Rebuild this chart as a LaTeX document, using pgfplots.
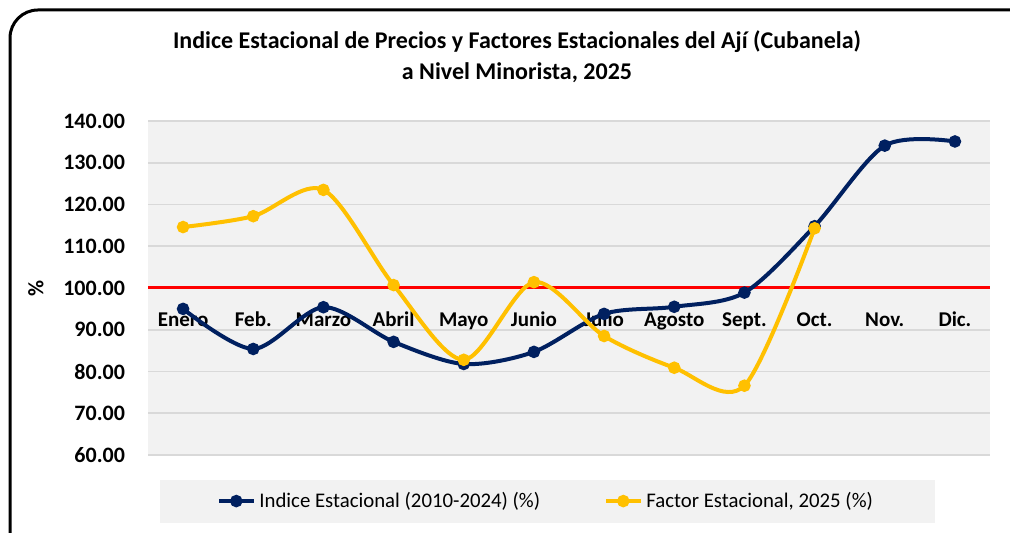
\documentclass[border=0pt]{standalone}
\usepackage{fontspec}
\setmainfont{Carlito}
\usepackage{pgfplots}
\pgfplotsset{compat=1.18}
\definecolor{navy}{HTML}{002060}
\definecolor{gold}{HTML}{FFC000}
\definecolor{bgray}{HTML}{F2F2F2}
\definecolor{ggray}{HTML}{D9D9D9}
\begin{document}
\begin{tikzpicture}
\useasboundingbox (0pt,0pt) rectangle (505pt,266.5pt);
\draw[line width=1.5pt, rounded corners=14pt] (5pt,-30pt) rectangle (530pt,261.5pt);
\node[font=\bfseries\fontsize{12}{15.5}\selectfont, align=center] at (258.5pt,238pt)
  {Indice Estacional de Precios y Factores Estacionales del Ají (Cubanela)\\a Nivel Minorista, 2025};
\fill[bgray] (80pt,5pt) rectangle (467.5pt,26.5pt);
\begin{axis}[
  at={(74pt,39pt)}, anchor=south west,
  width=421pt, height=167pt, scale only axis,
  xmin=-0.5, xmax=11.5, ymin=60, ymax=140,
  xtick={0,...,11},
  xticklabels={Enero,Feb.,Marzo,Abril,Mayo,Junio,Julio,Agosto,Sept.,Oct.,Nov.,Dic.},
  xticklabel style={anchor=base, yshift=64pt, font=\bfseries\fontsize{10.5}{12}\selectfont},
  ytick={60,70,...,140},
  yticklabel style={xshift=-8pt, font=\bfseries\fontsize{11}{12}\selectfont},
  /pgf/number format/assume math mode=true,
  /pgf/number format/fixed, /pgf/number format/fixed zerofill,
  /pgf/number format/precision=2, /pgf/number format/1000 sep={},
  ylabel={\%}, ylabel style={font=\bfseries\fontsize{11}{12}\selectfont}, ylabel shift=3pt,
  axis background/.style={fill=bgray},
  ymajorgrids, grid style={ggray, line width=0.8pt},
  axis line style={draw=none}, major tick length=0pt,
  legend columns=2,
  legend style={at={(0.474,-0.138)}, anchor=center, draw=none, fill=none,
    font=\fontsize{10.4}{12}\selectfont,
    /tikz/every even column/.append style={column sep=30pt}},
  legend cell align=left,
]
\addplot[red, line width=1.5pt, forget plot] coordinates {(-0.5,100) (11.5,100)};
\addplot[navy, line width=2pt, smooth, mark=*, mark size=2.1pt, mark options={fill=navy}]
  coordinates {(0,95.0) (1,85.4) (2,95.4) (3,87.1) (4,81.8) (5,84.7) (6,93.8) (7,95.5) (8,98.9) (9,114.8) (10,134.1) (11,135.1)};
\addlegendentry{Indice Estacional (2010-2024) (\%)}
\addplot[gold, line width=2pt, smooth, mark=*, mark size=2.1pt, mark options={fill=gold}]
  coordinates {(0,114.6) (1,117.2) (2,123.5) (3,100.7) (4,82.8) (5,101.4) (6,88.5) (7,80.9) (8,76.6) (9,114.3)};
\addlegendentry{Factor Estacional, 2025 (\%)}
\end{axis}
\end{tikzpicture}
\end{document}
